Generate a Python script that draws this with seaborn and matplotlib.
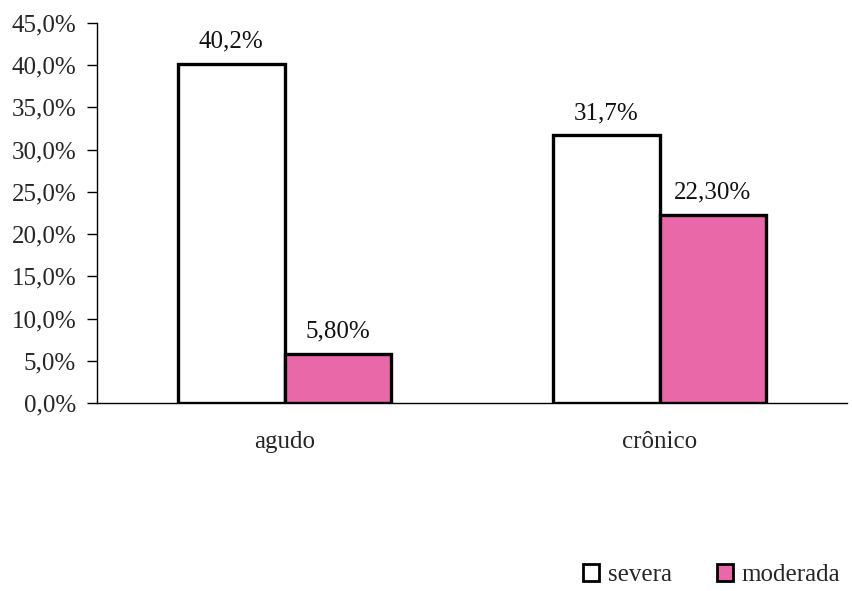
import matplotlib
matplotlib.use("Agg")
import matplotlib.pyplot as plt
import seaborn as sns
import pandas as pd
from matplotlib.patches import Patch

categories = ["agudo", "crônico"]
series_names = ["severa", "moderada"]
severa = [40.2, 31.7]
moderada = [5.8, 22.3]
value_labels_severa = ["40,2%", "31,7%"]
value_labels_moderada = ["5,80%", "22,30%"]
y_ticks = [0, 5, 10, 15, 20, 25, 30, 35, 40, 45]
y_tick_labels = ["0,0%", "5,0%", "10,0%", "15,0%", "20,0%", "25,0%",
                 "30,0%", "35,0%", "40,0%", "45,0%"]

colors = {"severa": "#FFFFFF", "moderada": "#E868A8"}

df = pd.DataFrame({
    "categoria": categories * 2,
    "grupo": [series_names[0]] * 2 + [series_names[1]] * 2,
    "valor": severa + moderada,
})

sns.set_style("white")
plt.rcParams["font.family"] = ["Liberation Serif", "DejaVu Serif"]
FS = 18

fig = plt.figure(figsize=(8.52, 5.91), dpi=100)
ax = fig.add_axes([97 / 852, 1 - 403 / 591, 750 / 852, 380 / 591])

sns.barplot(data=df, x="categoria", y="valor", hue="grupo",
            palette=colors, saturation=1, width=0.57, edgecolor="black",
            linewidth=2.4, legend=False, ax=ax)

for cont, labs in zip(ax.containers, [value_labels_severa, value_labels_moderada]):
    ax.bar_label(cont, labels=labs, padding=8, fontsize=FS, color="#111111")

ax.set_ylim(0, 45)
ax.set_xlim(-0.5, 1.5)
ax.set_yticks(y_ticks)
ax.set_yticklabels(y_tick_labels, fontsize=FS)
ax.set_xticks([0, 1])
ax.set_xticklabels(categories, fontsize=FS)
ax.tick_params(axis="x", length=0, pad=20)
ax.set_xticks([0.5], minor=True)
ax.tick_params(axis="x", which="minor", length=6, width=1, direction="out", color="black")
ax.tick_params(axis="y", length=7, width=1, direction="out", color="black", left=True, pad=8)
ax.set_xlabel("")
ax.set_ylabel("")

for side in ["top", "right"]:
    ax.spines[side].set_visible(False)
for side in ["left", "bottom"]:
    ax.spines[side].set_color("black")
    ax.spines[side].set_linewidth(1.0)

handles = [Patch(facecolor=colors[s], edgecolor="black", linewidth=2) for s in series_names]
fig.legend(handles, series_names, loc="center right", bbox_to_anchor=(1.013, 1 - 575 / 591),
           ncol=2, frameon=False, fontsize=FS, handlelength=0.65, handleheight=0.65,
           handletextpad=0.35, columnspacing=1.8)

fig.savefig("out.png", dpi=100)
